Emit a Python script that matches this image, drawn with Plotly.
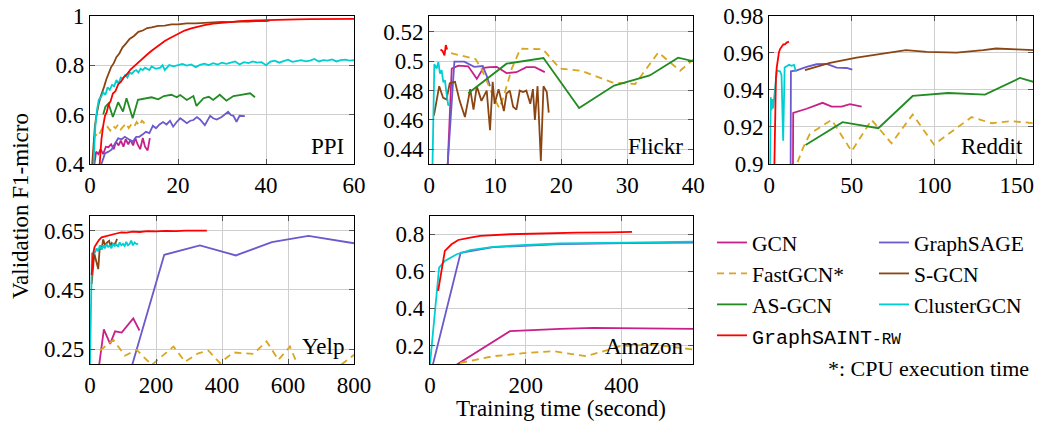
import plotly.graph_objects as go

# ---------------- DATA ----------------
# PPI
PPI_GCN_X = [1.0, 1.4, 1.9, 2.4, 3.0, 3.6, 4.2, 4.8, 5.4, 5.9, 6.5, 7.0, 7.6, 8.1, 8.7, 9.2, 9.8, 10.3, 10.8, 11.4, 12.0, 12.5, 13.1, 13.6]
PPI_GCN_Y = [0.40, 0.45, 0.44, 0.46, 0.44, 0.47, 0.468, 0.48, 0.46, 0.49, 0.475, 0.495, 0.47, 0.50, 0.48, 0.498, 0.475, 0.505, 0.48, 0.46, 0.505, 0.47, 0.455, 0.505]
PPI_SAGE_X = [2.6, 3.4, 4.2, 4.9, 5.6, 6.4, 7.2, 7.9, 8.8, 9.7, 10.5, 11.2, 12.0, 12.7, 13.5, 14.3, 15.0, 15.8, 16.6, 17.4, 18.2, 18.9, 19.7, 20.5, 21.3, 22.0, 22.8, 23.5, 24.3, 25.0, 26.1, 27.3, 28.0, 28.8, 29.9, 30.6, 31.4, 32.0, 32.6, 33.3, 34.0, 35.2]
PPI_SAGE_Y = [0.40, 0.443, 0.45, 0.458, 0.48, 0.504, 0.50, 0.51, 0.50, 0.49, 0.51, 0.51, 0.52, 0.53, 0.525, 0.555, 0.545, 0.56, 0.57, 0.56, 0.575, 0.551, 0.57, 0.585, 0.575, 0.565, 0.575, 0.578, 0.59, 0.58, 0.557, 0.595, 0.585, 0.58, 0.59, 0.60, 0.611, 0.598, 0.595, 0.571, 0.595, 0.594]
PPI_FAST_X = [0.8, 1.3, 1.8, 2.3, 2.8, 3.4, 4.0, 4.6, 5.2, 5.8, 6.4, 7.0, 7.6, 8.2, 8.8, 9.4, 10.0, 10.6, 11.2, 11.8, 12.4]
PPI_FAST_Y = [0.50, 0.52, 0.51, 0.53, 0.545, 0.54, 0.55, 0.535, 0.555, 0.545, 0.56, 0.54, 0.555, 0.565, 0.545, 0.56, 0.55, 0.57, 0.555, 0.575, 0.565]
PPI_SGCN_X = [0.5, 0.8, 1.1, 1.4, 1.7, 2.0, 2.4, 2.8, 3.2, 3.7, 4.2, 4.8, 5.4, 6.0, 6.7, 7.4, 8.2, 9.0, 10, 11, 12, 13, 14, 15.5, 17, 18.5, 20, 22, 24, 26, 28, 30, 32, 34, 36, 38, 40, 40.8]
PPI_SGCN_Y = [0.40, 0.48, 0.55, 0.59, 0.625, 0.645, 0.672, 0.69, 0.712, 0.742, 0.762, 0.792, 0.808, 0.832, 0.848, 0.872, 0.888, 0.906, 0.918, 0.935, 0.94, 0.95, 0.953, 0.959, 0.96, 0.965, 0.965, 0.969, 0.969, 0.972, 0.972, 0.975, 0.974, 0.977, 0.976, 0.979, 0.978, 0.98]
PPI_AS_X = [3.0, 3.5, 4.2, 5.2, 6.4, 7.5, 8.3, 9.7, 10.9, 12.5, 14.0, 15.5, 16.8, 18.5, 19.7, 20.5, 22.0, 23.5, 24.2, 25.8, 27.0, 28.0, 29.5, 31.0, 32.6, 34.0, 36.4, 37.5]
PPI_AS_Y = [0.60, 0.632, 0.645, 0.59, 0.65, 0.612, 0.666, 0.585, 0.66, 0.665, 0.67, 0.662, 0.675, 0.68, 0.67, 0.679, 0.659, 0.675, 0.635, 0.666, 0.672, 0.659, 0.68, 0.656, 0.675, 0.679, 0.686, 0.67]
PPI_CLU_X = [0.8, 1.2, 1.6, 2.0, 2.5, 3.0, 3.5, 4.0, 4.5, 5.0, 5.5, 6.0, 6.5, 7.0, 7.5, 8.0, 8.5, 9.0, 9.5, 10, 10.5, 11, 11.5, 12, 12.5, 13, 13.5, 14, 15, 16, 16.5, 17, 18, 19, 20, 21, 22, 23, 24, 25, 26, 27, 28, 29, 30, 31, 32, 33, 34, 35, 36, 37, 38, 39, 40, 41, 42, 43, 44, 45, 46, 47, 48, 49, 50, 51, 52, 53, 54, 55, 56, 57, 58, 59, 60]
PPI_CLU_Y = [0.40, 0.55, 0.62, 0.66, 0.67, 0.69, 0.68, 0.71, 0.70, 0.72, 0.715, 0.74, 0.725, 0.75, 0.745, 0.76, 0.75, 0.77, 0.765, 0.775, 0.78, 0.77, 0.785, 0.78, 0.79, 0.785, 0.78, 0.795, 0.785, 0.79, 0.80, 0.78, 0.80, 0.795, 0.80, 0.805, 0.798, 0.803, 0.792, 0.801, 0.806, 0.80, 0.808, 0.802, 0.81, 0.805, 0.81, 0.815, 0.803, 0.812, 0.808, 0.815, 0.81, 0.812, 0.80, 0.814, 0.818, 0.81, 0.816, 0.822, 0.813, 0.817, 0.82, 0.815, 0.818, 0.825, 0.815, 0.82, 0.818, 0.823, 0.815, 0.82, 0.822, 0.818, 0.82]
PPI_SAINT_X = [2.2, 2.6, 3.0, 3.4, 3.8, 4.2, 4.7, 5.2, 5.8, 6.4, 7.0, 7.7, 8.4, 9.2, 10.0, 11.0, 12.0, 13.0, 14.0, 15.0, 16.0, 17.0, 18.0, 19.0, 20.0, 21.5, 23.0, 24.5, 26.0, 28.0, 30.0, 32.5, 35.0, 38.0, 41.0, 44.0, 47.0, 50.0, 53.0, 56.0, 60.0]
PPI_SAINT_Y = [0.40, 0.50, 0.555, 0.595, 0.61, 0.64, 0.655, 0.685, 0.695, 0.722, 0.732, 0.752, 0.763, 0.782, 0.795, 0.812, 0.828, 0.843, 0.858, 0.872, 0.885, 0.898, 0.908, 0.918, 0.928, 0.94, 0.949, 0.956, 0.962, 0.968, 0.972, 0.976, 0.979, 0.981, 0.983, 0.984, 0.985, 0.986, 0.986, 0.987, 0.987]

# Flickr
FLK_GCN_X = [2.7, 3.4, 4.4, 5.9, 7.2, 8.2, 9.2, 10.2, 11.7, 13.2, 14.7, 16.0, 17.5]
FLK_GCN_Y = [0.42, 0.495, 0.497, 0.4965, 0.488, 0.4955, 0.496, 0.4962, 0.4919, 0.4925, 0.496, 0.496, 0.4926]
FLK_SAGE_X = [2.5, 3.8, 5.3, 6.8, 8.1, 8.7, 9.2]
FLK_SAGE_Y = [0.41, 0.4997, 0.4997, 0.4962, 0.4967, 0.490, 0.483]
FLK_FAST_X = [3.3, 7.0, 8.0, 9.6, 10.6, 11.2, 12.5, 13.8, 17.2, 19.8, 23.0, 27.8, 31.2, 34.7, 38.0, 40.5]
FLK_FAST_Y = [0.5055, 0.5015, 0.494, 0.477, 0.468, 0.475, 0.495, 0.5085, 0.5082, 0.495, 0.4935, 0.4855, 0.4845, 0.506, 0.4935, 0.503]
FLK_SGCN_X = [0.7, 1.5, 2.1, 2.6, 3.1, 3.9, 4.6, 5.4, 6.2, 6.7, 7.2, 7.9, 8.7, 9.2, 9.6, 9.9, 10.5, 11.0, 11.3, 11.7, 12.2, 12.7, 13.2, 13.7, 14.2, 14.7, 15.3, 15.7, 16.0, 16.4, 16.9, 17.3, 17.8, 18.1]
FLK_SGCN_Y = [0.463, 0.483, 0.475, 0.474, 0.485, 0.486, 0.473, 0.462, 0.481, 0.467, 0.483, 0.473, 0.48, 0.453, 0.486, 0.471, 0.481, 0.472, 0.466, 0.478, 0.48, 0.469, 0.467, 0.48, 0.479, 0.48, 0.471, 0.481, 0.46, 0.483, 0.432, 0.483, 0.479, 0.465]
FLK_AS_X = [5.9, 11.7, 17.3, 22.7, 28.0, 33.4, 37.7, 40.5]
FLK_AS_Y = [0.4782, 0.4983, 0.5022, 0.4681, 0.4834, 0.4903, 0.5024, 0.4995]
FLK_CLU_X = [0.45, 0.76, 1.12, 1.37, 1.62, 1.87, 2.12, 2.37, 2.62, 2.87, 3.12]
FLK_CLU_Y = [0.42, 0.498, 0.495, 0.4995, 0.4915, 0.494, 0.4858, 0.487, 0.478, 0.470, 0.471]
FLK_SAINT_X = [1.7, 2.0, 2.3, 2.5, 2.7]
FLK_SAINT_Y = [0.508, 0.507, 0.504, 0.511, 0.508]

# Reddit
RED_GCN_X = [14.3, 14.5, 22.6, 32.3, 37.8, 43.8, 48.9, 56.0]
RED_GCN_Y = [0.89, 0.9276, 0.9298, 0.9330, 0.931, 0.931, 0.9323, 0.931]
RED_SAGE_X = [12.9, 13.1, 16.6, 22.6, 28.7, 34.7, 40.8, 46.9, 50.3]
RED_SAGE_Y = [0.89, 0.950, 0.9505, 0.9524, 0.9538, 0.954, 0.952, 0.9518, 0.9509]
RED_FAST_X = [14.5, 20.6, 24.6, 37.8, 49.9, 62.0, 74.1, 86.9, 99.8, 122.6, 134.7, 146.9, 160.5]
RED_FAST_Y = [0.895, 0.909, 0.9163, 0.9238, 0.9069, 0.9238, 0.9112, 0.9267, 0.9105, 0.9253, 0.922, 0.9231, 0.922]
RED_SGCN_X = [21.6, 36.8, 52.9, 69.1, 82.8, 95.4, 113.5, 129.7, 137.4, 149.9, 160.5]
RED_SGCN_Y = [0.9506, 0.9545, 0.9574, 0.9596, 0.9614, 0.9605, 0.9601, 0.9614, 0.9623, 0.9618, 0.9614]
RED_AS_X = [22.0, 44.4, 66.1, 86.9, 108.5, 130.7, 151.9, 160.5]
RED_AS_Y = [0.9103, 0.9226, 0.9193, 0.9367, 0.9383, 0.9374, 0.9464, 0.9442]
RED_CLU_X = [0.3, 0.9, 1.3, 1.8, 2.3, 4.6, 5.5, 6.5, 7.4, 8.4, 9.3, 10.5, 12.0, 13.5, 15.0, 16.2]
RED_CLU_Y = [0.89, 0.936, 0.929, 0.935, 0.930, 0.9505, 0.9502, 0.950, 0.948, 0.9125, 0.952, 0.9525, 0.9535, 0.953, 0.9535, 0.9497]
RED_SAINT_X = [3.0, 3.3, 3.6, 4.0, 4.5, 5.1, 5.8, 6.5, 7.5, 8.5, 9.5, 10.5, 11.9]
RED_SAINT_Y = [0.895, 0.92, 0.934, 0.946, 0.952, 0.957, 0.960, 0.962, 0.963, 0.9645, 0.9645, 0.9655, 0.966]

# Yelp
YLP_GCN_X = [27, 42, 61, 76, 96, 131, 150]
YLP_GCN_Y = [0.19, 0.317, 0.268, 0.31, 0.306, 0.354, 0.313]
YLP_SAGE_X = [126, 225, 333, 442, 551, 662, 800]
YLP_SAGE_Y = [0.19, 0.568, 0.60, 0.566, 0.611, 0.632, 0.607]
YLP_FAST_X = [30, 71, 106, 141, 187, 253, 288, 328, 359, 394, 434, 495, 535, 571, 606, 631, 700, 758, 800]
YLP_FAST_Y = [0.245, 0.281, 0.228, 0.248, 0.197, 0.259, 0.208, 0.236, 0.245, 0.203, 0.239, 0.234, 0.276, 0.214, 0.259, 0.192, 0.17, 0.195, 0.231]
YLP_SGCN_X = [5, 9, 13, 17, 21, 25, 30, 35, 40, 46, 52, 58, 62, 66, 72, 78, 82]
YLP_SGCN_Y = [0.47, 0.53, 0.573, 0.555, 0.54, 0.52, 0.60, 0.585, 0.62, 0.60, 0.61, 0.615, 0.595, 0.608, 0.602, 0.61, 0.622]
YLP_CLU_X = [0, 2, 4, 6, 9, 12, 15, 20, 25, 30, 35, 40, 45, 50, 55, 60, 65, 70, 75, 80, 85, 90, 95, 100, 105, 110, 115, 120, 125, 130, 135, 140, 146]
YLP_CLU_Y = [0.20, 0.40, 0.55, 0.575, 0.56, 0.58, 0.575, 0.59, 0.58, 0.60, 0.585, 0.60, 0.59, 0.605, 0.595, 0.60, 0.59, 0.607, 0.598, 0.603, 0.595, 0.61, 0.60, 0.605, 0.598, 0.612, 0.60, 0.605, 0.616, 0.60, 0.61, 0.605, 0.605]
YLP_SAINT_X = [5, 7, 10, 14, 20, 27, 35, 45, 55, 65, 80, 95, 110, 130, 150, 175, 200, 230, 260, 290, 320, 354]
YLP_SAINT_Y = [0.50, 0.53, 0.575, 0.595, 0.607, 0.618, 0.627, 0.63, 0.635, 0.638, 0.64, 0.644, 0.643, 0.646, 0.645, 0.648, 0.647, 0.649, 0.648, 0.65, 0.649, 0.65]

# Amazon
AMZ_GCN_X = [56, 167, 272, 341, 550]
AMZ_GCN_Y = [0.097, 0.277, 0.29, 0.295, 0.29]
AMZ_SAGE_X = [6, 64, 132, 202, 272, 411, 550]
AMZ_SAGE_Y = [0.097, 0.70, 0.73, 0.74, 0.747, 0.752, 0.755]
AMZ_FAST_X = [63, 132, 202, 258, 327, 397, 467, 550]
AMZ_FAST_Y = [0.106, 0.142, 0.16, 0.169, 0.142, 0.196, 0.205, 0.178]
AMZ_CLU_X = [0, 10, 19, 31, 56, 84, 132, 202, 272, 411, 550]
AMZ_CLU_Y = [0.10, 0.36, 0.62, 0.656, 0.692, 0.714, 0.732, 0.742, 0.75, 0.755, 0.76]
AMZ_SAINT_X = [17, 21, 31, 45, 59, 84, 105, 167, 237, 307, 376, 422]
AMZ_SAINT_Y = [0.494, 0.557, 0.71, 0.746, 0.769, 0.782, 0.791, 0.80, 0.805, 0.809, 0.81, 0.813]

METHODS = ["GCN", "GraphSAGE", "FastGCN*", "S-GCN", "AS-GCN", "ClusterGCN", "GraphSAINT-RW"]
COLORS = ["#C8208A", "#6A5ACD", "#DAA520", "#8B4513", "#228B22", "#00CED1", "#FF0000"]
LEGEND_OF = ["legend", "legend2", "legend", "legend2", "legend", "legend2", "legend"]
RANKS = [1, 1, 2, 2, 3, 3, 4]

PANELS = [
    ("PPI", [PPI_GCN_X, PPI_SAGE_X, PPI_FAST_X, PPI_SGCN_X, PPI_AS_X, PPI_CLU_X, PPI_SAINT_X],
            [PPI_GCN_Y, PPI_SAGE_Y, PPI_FAST_Y, PPI_SGCN_Y, PPI_AS_Y, PPI_CLU_Y, PPI_SAINT_Y]),
    ("Flickr", [FLK_GCN_X, FLK_SAGE_X, FLK_FAST_X, FLK_SGCN_X, FLK_AS_X, FLK_CLU_X, FLK_SAINT_X],
               [FLK_GCN_Y, FLK_SAGE_Y, FLK_FAST_Y, FLK_SGCN_Y, FLK_AS_Y, FLK_CLU_Y, FLK_SAINT_Y]),
    ("Reddit", [RED_GCN_X, RED_SAGE_X, RED_FAST_X, RED_SGCN_X, RED_AS_X, RED_CLU_X, RED_SAINT_X],
               [RED_GCN_Y, RED_SAGE_Y, RED_FAST_Y, RED_SGCN_Y, RED_AS_Y, RED_CLU_Y, RED_SAINT_Y]),
    ("Yelp", [YLP_GCN_X, YLP_SAGE_X, YLP_FAST_X, YLP_SGCN_X, None, YLP_CLU_X, YLP_SAINT_X],
             [YLP_GCN_Y, YLP_SAGE_Y, YLP_FAST_Y, YLP_SGCN_Y, None, YLP_CLU_Y, YLP_SAINT_Y]),
    ("Amazon", [AMZ_GCN_X, AMZ_SAGE_X, AMZ_FAST_X, None, None, AMZ_CLU_X, AMZ_SAINT_X],
               [AMZ_GCN_Y, AMZ_SAGE_Y, AMZ_FAST_Y, None, None, AMZ_CLU_Y, AMZ_SAINT_Y]),
]

X_RANGES = [[0, 60], [0, 40], [0, 160], [0, 800], [0, 550]]
X_TICKS = [[0, 20, 40, 60], [0, 10, 20, 30, 40], [0, 50, 100, 150], [0, 200, 400, 600, 800], [0, 200, 400]]
Y_RANGES = [[0.4, 1.0], [0.43, 0.531], [0.9, 0.98], [0.2, 0.7], [0.1, 0.9]]
Y_TICKS = [[0.4, 0.6, 0.8, 1.0], [0.44, 0.46, 0.48, 0.5, 0.52], [0.9, 0.92, 0.94, 0.96, 0.98], [0.25, 0.45, 0.65], [0.2, 0.4, 0.6, 0.8]]
Y_TICKTEXT = [["0.4", "0.6", "0.8", "1"], ["0.44", "0.46", "0.48", "0.5", "0.52"],
              ["0.9", "0.92", "0.94", "0.96", "0.98"], ["0.25", "0.45", "0.65"], ["0.2", "0.4", "0.6", "0.8"]]

# ---------------- LAYOUT GEOMETRY ----------------
W, H = 1037, 421


def fx(px):
    return px / W


def fy(py):
    return 1 - py / H


X_DOMAINS = [[fx(90), fx(354)], [fx(429.3), fx(693.3)], [fx(769.3), fx(1033.3)], [fx(90), fx(354)], [fx(430), fx(693.3)]]
TOP_ROW = [fy(164), fy(15.7)]
BOT_ROW = [fy(364), fy(215.7)]
Y_DOMAINS = [TOP_ROW, TOP_ROW, TOP_ROW, BOT_ROW, BOT_ROW]

SERIF = "Liberation Serif"
MONO = "Liberation Mono"
FS = 21.5

fig = go.Figure()

for p, (label, xs, ys) in enumerate(PANELS):
    ax = "" if p == 0 else str(p + 1)
    for m in range(7):
        if xs[m] is None:
            continue
        name = METHODS[m]
        if name == "GraphSAINT-RW":
            name = ('<span style="font-family:' + MONO + ';font-size:20px">GraphSAINT</span>'
                    '<span style="font-family:' + MONO + ';font-size:16px">-RW</span>')
        fig.add_trace(go.Scatter(
            x=xs[m], y=ys[m], mode="lines", name=name,
            line=dict(color=COLORS[m], width=1.8,
                      dash="7px,5px" if m == 2 else "solid"),
            xaxis="x" + ax, yaxis="y" + ax,
            legend=LEGEND_OF[m], legendrank=RANKS[m],
            legendgroup=METHODS[m], showlegend=(p == 0),
            hoverinfo="skip",
        ))

axis_common = dict(
    showline=True, linecolor="black", linewidth=1.2, mirror="ticks",
    ticks="inside", ticklen=5, tickcolor="#555555", tickwidth=1,
    showgrid=True, gridcolor="#cfcfcf", gridwidth=1, zeroline=False,
    tickfont=dict(family=SERIF, size=23, color="black"),
    ticklabeloverflow="allow",
)

layout = dict(
    width=W, height=H, margin=dict(l=0, r=0, t=0, b=0, autoexpand=False),
    paper_bgcolor="white", plot_bgcolor="white",
    font=dict(family=SERIF, size=FS, color="black"),
)
annotations = []
for p in range(5):
    sfx = "" if p == 0 else str(p + 1)
    layout["xaxis" + sfx] = dict(axis_common, domain=X_DOMAINS[p], range=X_RANGES[p],
                                 tickvals=X_TICKS[p], anchor="y" + sfx)
    layout["yaxis" + sfx] = dict(axis_common, domain=Y_DOMAINS[p], range=Y_RANGES[p],
                                 tickvals=Y_TICKS[p], ticktext=Y_TICKTEXT[p], anchor="x" + sfx)
    annotations.append(dict(
        text=PANELS[p][0], xref="x" + sfx + " domain", yref="y" + sfx + " domain",
        x=1, y=0, xanchor="right", yanchor="bottom", xshift=-8, yshift=3,
        showarrow=False, font=dict(family=SERIF, size=23, color="black"),
    ))

annotations.append(dict(text="Validation F1-micro", xref="paper", yref="paper",
                        x=fx(20), y=fy(206), textangle=-90, showarrow=False,
                        xanchor="center", yanchor="middle",
                        font=dict(family=SERIF, size=23, color="black")))
annotations.append(dict(text="Training time (second)", xref="paper", yref="paper",
                        x=fx(561), y=fy(408), showarrow=False,
                        xanchor="center", yanchor="middle",
                        font=dict(family=SERIF, size=23, color="black")))
annotations.append(dict(text="*: CPU execution time", xref="paper", yref="paper",
                        x=fx(1031), y=fy(368), showarrow=False,
                        xanchor="right", yanchor="middle",
                        font=dict(family=SERIF, size=22, color="black")))
layout["annotations"] = annotations

leg_common = dict(yanchor="top", xanchor="left", bgcolor="rgba(0,0,0,0)",
                  font=dict(family=SERIF, size=FS, color="black"),
                  tracegroupgap=0, itemwidth=30, orientation="v")
layout["legend"] = dict(leg_common, x=fx(712), y=fy(222))
layout["legend2"] = dict(leg_common, x=fx(874), y=fy(222))

fig.update_layout(**layout)
# remove the default page margin so the 1037x421 figure fills the window exactly
fig.write_html("out.html",
               config={"displayModeBar": False},
               post_script="document.body.style.margin='0';document.body.style.overflow='hidden';")
